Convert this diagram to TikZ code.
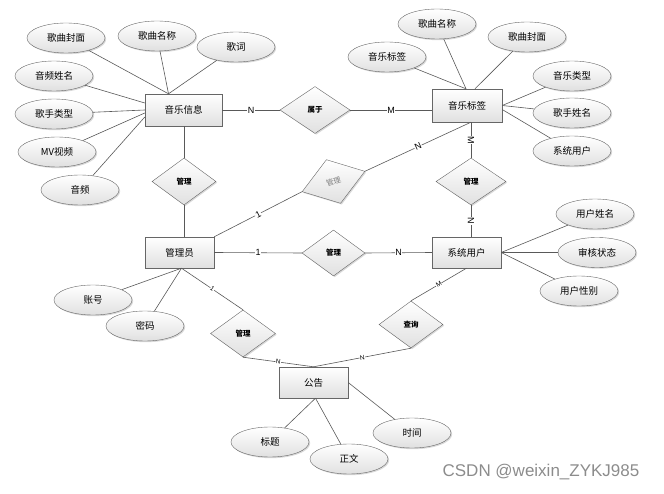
\documentclass[tikz,border=0pt]{standalone}
\usepackage{fontspec}
\setmainfont{Liberation Sans}
\newfontfamily\cjk{Noto Sans CJK SC}
\usetikzlibrary{shapes.geometric,shadows}
\begin{document}
\begin{tikzpicture}[x=1pt,y=-1pt,
  ent/.style={draw=black!60, rectangle, minimum width=77pt, minimum height=32pt, inner sep=0pt,
    top color=white, bottom color=black!12, font=\cjk\fontsize{9.5}{11}\selectfont,
    drop shadow={shadow xshift=1.2pt, shadow yshift=-1.2pt, fill=black!30, opacity=0.5}},
  attr/.style={draw=black!60, ellipse, minimum width=78pt, minimum height=30pt, inner sep=0pt,
    top color=white, bottom color=black!12, font=\cjk\fontsize{9.5}{11}\selectfont,
    drop shadow={shadow xshift=1.2pt, shadow yshift=-1.2pt, fill=black!30, opacity=0.5}},
  rel/.style={draw=black!60, diamond, minimum width=64pt, minimum height=47pt, inner sep=0pt,
    top color=white, bottom color=black!12, font=\cjk\bfseries\fontsize{7.5}{9}\selectfont,
    drop shadow={shadow xshift=1.2pt, shadow yshift=-1.2pt, fill=black!30, opacity=0.5}},
  conn/.style={draw=black!65, line width=0.6pt},
  lab/.style={fill=white, inner sep=0.6pt, font=\fontsize{9}{9}\selectfont},
  slab/.style={fill=white, inner sep=0.4pt, font=\fontsize{6.5}{7}\selectfont, sloped}
]
\useasboundingbox (0,0) rectangle (664,494);

% entities
\node[ent] (mi) at (183.5,110) {音乐信息};
\node[ent, minimum width=70pt, minimum height=33pt] (ml) at (467,105.5) {音乐标签};
\node[ent, minimum width=69pt, minimum height=31pt] (ad) at (179.5,252.5) {管理员};
\node[ent, minimum width=69pt, minimum height=31pt] (su) at (466.5,252.5) {系统用户};
\node[ent, minimum width=69pt, minimum height=31pt] (gg) at (313.5,382.5) {公告};

% relationships
\node[rel, minimum width=70pt] (dsy) at (315,110) {属于};
\node[rel] (dg1) at (184,181.5) {管理};
\node[rel, minimum width=70pt] (dg2) at (471,181.5) {管理};
\node[rel, minimum width=63pt, minimum height=46pt] (dg3) at (333.5,253) {管理};
\node[rel, rotate=18, minimum width=66pt, minimum height=46pt, text=black!50,
  font=\cjk\fontsize{7.5}{9}\selectfont] (dg4) at (333.5,181.5) {管理};
\node[rel, minimum width=65pt] (dg5) at (243,333.5) {管理};
\node[rel] (dcx) at (411,324.5) {查询};

% attributes of 音乐信息
\node[attr] (a1) at (66,38) {歌曲封面};
\node[attr] (a2) at (157,36) {歌曲名称};
\node[attr] (a3) at (236,47) {歌词};
\node[attr] (a4) at (54,76) {音频姓名};
\node[attr] (a5) at (54,114) {歌手类型};
\node[attr] (a6) at (57,152) {MV视频};
\node[attr] (a7) at (80,190) {音频};

% attributes of 音乐标签
\node[attr] (b1) at (437,24) {歌曲名称};
\node[attr] (b2) at (527,37) {歌曲封面};
\node[attr] (b3) at (387,57) {音乐标签};
\node[attr] (b4) at (572,76) {音乐类型};
\node[attr] (b5) at (572,113) {歌手姓名};
\node[attr] (b6) at (572,151) {系统用户};

% attributes of 系统用户
\node[attr] (c1) at (595,214) {用户姓名};
\node[attr] (c2) at (597,252.5) {审核状态};
\node[attr] (c3) at (579,291) {用户性别};

% attributes of 管理员
\node[attr] (d1) at (93,300) {账号};
\node[attr] (d2) at (145,326) {密码};

% attributes of 公告
\node[attr] (e1) at (270,442) {标题};
\node[attr] (e2) at (349,459) {正文};
\node[attr] (e3) at (412,433) {时间};

% watermark
\node[font=\fontsize{17}{17}\selectfont, text=black!45] (wm) at (541,472) {CSDN @weixin\_ZYKJ985};

% attribute connectors
\draw[conn] (a1) -- ([xshift=-15pt]mi.north);
\draw[conn] (a2) -- ([xshift=-15pt]mi.north);
\draw[conn] (a3) -- ([xshift=-15pt]mi.north);
\draw[conn] (a4) -- ([yshift=7pt]mi.west);
\draw[conn] (a5) -- (mi.west);
\draw[conn] (a6) -- ([yshift=-3pt]mi.west);
\draw[conn] (a7) -- ([yshift=-7pt]mi.west);

\draw[conn] (b1) -- ([xshift=-1pt]ml.north);
\draw[conn] (b3) -- ([xshift=-1pt]ml.north);
\draw[conn] (b2) -- ([xshift=8pt]ml.north);
\draw[conn] (b4) -- (ml.east);
\draw[conn] (b5) -- (ml.east);
\draw[conn] (b6) -- ([yshift=-4pt]ml.east);

\draw[conn] (c1) -- (su.east);
\draw[conn] (c2) -- (su.east);
\draw[conn] (c3) -- (su.east);

\draw[conn] (d1) -- ([xshift=2pt]ad.south);
\draw[conn] (d2) -- ([xshift=2pt]ad.south);

\draw[conn] (e1) -- ([xshift=2pt]gg.south);
\draw[conn] (e2) -- ([xshift=2pt]gg.south);
\draw[conn] (e3) -- ([yshift=0pt]gg.east);

% relationship connectors
\draw[conn] (mi.east) -- node[lab]{N} (dsy.west);
\draw[conn] (dsy.east) -- node[lab]{M} (dsy.east -| ml.west);
\draw[conn] (mi.south -| dg1.north) -- (dg1.north);
\draw[conn] (dg1.south) -- (dg1.south |- ad.north);
\draw[conn] (ad.north east) -- node[lab, sloped]{1} (dg4.west);
\draw[conn] (dg4.east) -- node[lab, sloped]{N} (dg2.north |- ml.south);
\draw[conn] (dg2.north |- ml.south) -- node[lab, sloped]{M} (dg2.north);
\draw[conn] (dg2.south) -- node[lab, sloped]{N} (dg2.south |- su.north);
\draw[conn] (ad.east) -- node[lab]{1} (dg3.west);
\draw[conn] (dg3.east) -- node[lab]{N} (su.west);
\draw[conn] ([xshift=2pt]ad.south) -- node[slab]{1} (dg5.north);
\draw[conn] (dg5.south) -- node[slab]{N} (gg.north);
\draw[conn] (su.south) -- node[slab]{M} (dcx.north);
\draw[conn] (dcx.south) -- node[slab]{N} (gg.north);
\end{tikzpicture}
\end{document}
